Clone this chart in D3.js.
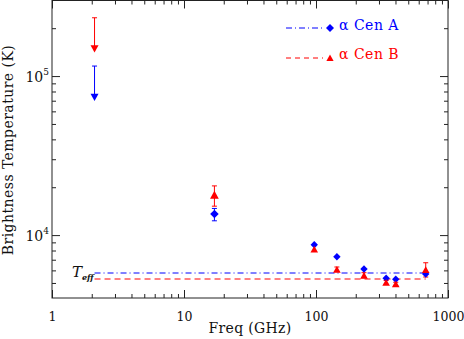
<!DOCTYPE html>
<html><head><meta charset="utf-8">
<script src="https://cdn.jsdelivr.net/npm/d3@7/dist/d3.min.js"></script>
<style>body{margin:0;background:#fff}svg{display:block}</style>
</head><body>
<svg id="c" width="464" height="339"></svg>
<script>
// ---- data ----
const freqs = [2.1, 17, 97, 144, 231, 340, 402, 678];           // GHz
const cenA = [73800, 13550, 8690, 7310, 6115, 5348, 5271, 5692]; // K
const cenALow = [73800, 12300, 8690, 7310, 6115, 5348, 5271, 5692];
const cenAHigh = [115600, 14710, 8690, 7310, 6115, 5348, 5271, 5692];
const cenB = [149300, 17830, 8110, 6055, 5553, 5019, 4904, 6030];
const cenBLow = [149300, 15200, 8110, 5900, 5400, 4900, 4790, 5450];
const cenBHigh = [232600, 20390, 8110, 6300, 5800, 5180, 5050, 6700];
const upperLimit = [true, false, false, false, false, false, false, false];
const teffA = 5790, teffB = 5260;
const xTickVals = [1, 10, 100, 1000];
const xTickLabels = ["1", "10", "100", "1000"];
const yTickBase = ["10", "10"];
const yTickExp = ["5", "4"];
const yTickVals = [1e5, 1e4];
const legendLabels = ["\u03b1 Cen A", "\u03b1 Cen B"];

const svg = d3.select("#c");
const L = 52, R = 448, T = 0.5, B = 298;
const x = d3.scaleLog().domain([1, 1000]).range([L, R]);
const y = d3.scaleLog().domain([4022, 298700]).range([B, T]);
const font = "'DejaVu Serif', 'Liberation Serif', serif";
const blue = "#0000ff", red = "#ff0000";

// minor ticks
const xMinor = [];
for (let d = 1; d < 1000; d *= 10) for (let k = 2; k <= 9; k++) xMinor.push(d * k);
const yMinor = [];
for (let d = 1000; d < 1e6; d *= 10) for (let k = 2; k <= 9; k++) { const v = d * k; if (v > 4022 && v < 298700) yMinor.push(v); }

const g = svg.append("g");
function axisGroup(axis, tx, ty) {
  const a = g.append("g").attr("transform", `translate(${tx},${ty})`).call(axis);
  a.select(".domain").remove();
  a.selectAll("line").attr("stroke", "#222").attr("stroke-width", 1);
  return a;
}
// bottom & top
axisGroup(d3.axisBottom(x).tickValues(xMinor).tickSize(-4).tickFormat(""), 0, B);
axisGroup(d3.axisTop(x).tickValues(xMinor).tickSize(-4).tickFormat(""), 0, T);
const xb = axisGroup(d3.axisBottom(x).tickValues(xTickVals).tickSize(-8).tickPadding(14)
  .tickFormat((d, i) => xTickLabels[i]), 0, B);
xb.selectAll("text").attr("font-family", font).attr("font-size", 12.5).attr("fill", "#111");
axisGroup(d3.axisTop(x).tickValues(xTickVals).tickSize(-8).tickFormat(""), 0, T);
// left & right
axisGroup(d3.axisLeft(y).tickValues(yMinor).tickSize(-4).tickFormat(""), L, 0);
axisGroup(d3.axisRight(y).tickValues(yMinor).tickSize(-4).tickFormat(""), R, 0);
axisGroup(d3.axisLeft(y).tickValues(yTickVals).tickSize(-8).tickFormat(""), L, 0);
axisGroup(d3.axisRight(y).tickValues(yTickVals).tickSize(-8).tickFormat(""), R, 0);
yTickVals.forEach((v, i) => {
  const t = g.append("text").attr("x", L - 3).attr("y", y(v) + 6)
    .attr("text-anchor", "end").attr("font-family", font).attr("font-size", 14).attr("fill", "#111");
  t.append("tspan").text(yTickBase[i]);
  t.append("tspan").attr("dy", -7).attr("font-size", 9).text(yTickExp[i]);
});
// frame
g.append("rect").attr("x", L).attr("y", T).attr("width", R - L).attr("height", B - T)
  .attr("fill", "none").attr("stroke", "#222").attr("stroke-width", 1);

// titles
g.append("text").attr("x", 250).attr("y", 333).attr("text-anchor", "middle")
  .attr("font-family", font).attr("font-size", 14).attr("letter-spacing", 0.3).attr("fill", "#111").text("Freq (GHz)");
g.append("text").attr("transform", `translate(13,150) rotate(-90)`).attr("text-anchor", "middle")
  .attr("font-family", font).attr("font-size", 14).attr("letter-spacing", 0.45).attr("fill", "#111").text("Brightness Temperature (K)");

// Teff lines (centred on pixel boundaries for a soft anti-aliased look)
const f0 = freqs[0], f1 = freqs[freqs.length - 1];
const yA = Math.round(y(teffA)), yB = Math.round(y(teffB));
g.append("line").attr("x1", x(f0)).attr("x2", x(f1)).attr("y1", yA).attr("y2", yA)
  .attr("stroke", blue).attr("stroke-width", 1).attr("stroke-dasharray", "6,3,1,3");
g.append("line").attr("x1", x(f0)).attr("x2", x(f1)).attr("y1", yB).attr("y2", yB)
  .attr("stroke", red).attr("stroke-width", 1).attr("stroke-dasharray", "6,4");
const te = g.append("text").attr("x", 72).attr("y", 277).attr("font-family", font).attr("fill", "#111");
te.append("tspan").attr("font-style", "italic").attr("font-size", 15).text("T");
te.append("tspan").attr("dy", 3).attr("font-style", "italic").attr("font-weight", "bold").attr("font-size", 8).text("eff");

// error bars
function errBars(vals, lo, hi, col) {
  freqs.forEach((f, i) => {
    const top = hi[i], bot = upperLimit[i] ? vals[i] : lo[i];
    if (top === bot) return;
    const cx = x(f);
    g.append("line").attr("x1", cx).attr("x2", cx).attr("y1", y(top)).attr("y2", y(bot)).attr("stroke", col).attr("stroke-width", 1);
    g.append("line").attr("x1", cx - 2.5).attr("x2", cx + 2.5).attr("y1", y(top)).attr("y2", y(top)).attr("stroke", col).attr("stroke-width", 1);
    if (!upperLimit[i])
      g.append("line").attr("x1", cx - 2.5).attr("x2", cx + 2.5).attr("y1", y(bot)).attr("y2", y(bot)).attr("stroke", col).attr("stroke-width", 1);
  });
}
errBars(cenA, cenALow, cenAHigh, blue);
errBars(cenB, cenBLow, cenBHigh, red);

const diamond = s => `M0,${-s}L${s},0L0,${s}L${-s},0Z`;
const triUp = s => `M0,${-s}L${s},${s * 0.8}L${-s},${s * 0.8}Z`;
const triDown = s => `M0,${s}L${s},${-s * 0.8}L${-s},${-s * 0.8}Z`;

freqs.forEach((f, i) => {
  const big = i === 1 ? 1.15 : 1;
  g.append("path").attr("transform", `translate(${x(f)},${y(cenA[i])})`)
    .attr("d", upperLimit[i] ? triDown(4) : diamond(3.7 * big)).attr("fill", blue);
  g.append("path").attr("transform", `translate(${x(f)},${y(cenB[i])})`)
    .attr("d", upperLimit[i] ? triDown(4) : triUp(3.8 * big)).attr("fill", red);
});

// legend
const lg = [
  { col: blue, dash: "6,3,1,3", y: 28, ty: 29.5, shape: diamond(4) },
  { col: red, dash: "5,4", y: 58, ty: 58.5, shape: triUp(3.6) }
];
lg.forEach((d, i) => {
  g.append("line").attr("x1", 286).attr("x2", 323).attr("y1", d.y).attr("y2", d.y)
    .attr("stroke", d.col).attr("stroke-width", 1).attr("stroke-dasharray", d.dash);
  g.append("path").attr("transform", `translate(330,${d.y})`).attr("d", d.shape).attr("fill", d.col);
  g.append("text").attr("x", 339).attr("y", d.ty).attr("font-family", font).attr("font-size", 14)
    .attr("letter-spacing", 0.5).attr("fill", d.col).text(legendLabels[i]);
});
</script>
</body></html>
